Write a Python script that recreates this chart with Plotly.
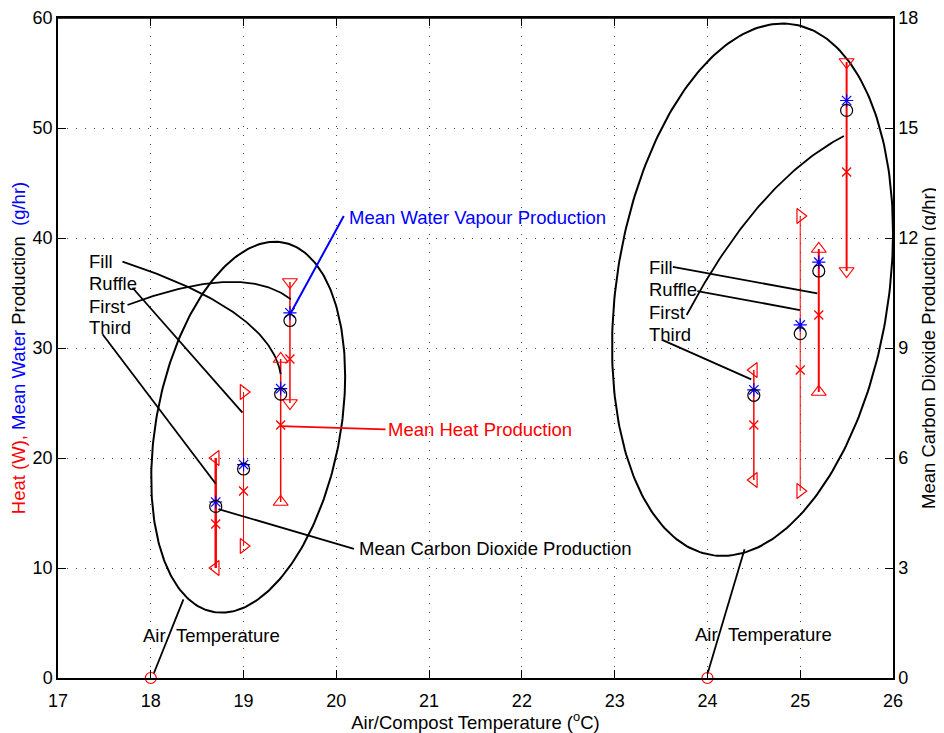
import numpy as np
import plotly.graph_objects as go

# ---------------- data ----------------
temps = [18.7, 19.0, 19.4, 19.5, 24.5, 25.0, 25.2, 25.5]
turning = ["Third", "Ruffle", "Fill", "First", "Third", "Ruffle", "Fill", "First"]
heat_max = [20, 26, 29, 36, 28, 42, 39, 56]
heat_min = [10, 12, 16, 25, 18, 17, 26, 37]
heat_mean = [14, 17, 23, 29, 23, 28, 33, 46]
water_mean = [16.0, 19.4, 26.3, 33.2, 26.2, 32.1, 37.8, 52.5]
co2_mean = [4.68, 5.70, 7.74, 9.75, 7.71, 9.39, 11.1, 15.48]
air_temps = [18, 24]
air_values = [0, 0]

x_ticks = list(range(17, 27))
y_ticks = list(range(0, 61, 10))
y2_ticks = list(range(0, 19, 3))

# ellipse geometry (data units): centre, half extents, correlation
ell_cx = [19.05, 24.486]
ell_cy = [22.8, 35.3]
ell_wx = [1.045, 1.514]
ell_wy = [16.86, 24.2]
ell_rho = [0.275, 0.214]

# annotation texts / positions
label_names = ["Fill", "Ruffle", "First", "Third"]
label_x = [17.31, 23.35]
label_y_left = [37.9, 35.85, 33.8, 31.85]
label_y_right = [37.36, 35.34, 33.24, 31.27]

# ---------------- styling ----------------
sym = {"Third": "triangle-left-open", "Ruffle": "triangle-right-open",
       "Fill": "triangle-up-open", "First": "triangle-down-open"}
bar_widths = [2.5, 1, 1.5, 1.5, 1.5, 1, 2, 2]
RED = "#ff0000"
BLUE = "#0000ff"
FONT = "Liberation Sans, Arial, Helvetica, sans-serif"
TXT = 18.5

fig = go.Figure()

# ellipses
t = np.linspace(0, 2 * np.pi, 300)
for cx, cy, wx, wy, r in zip(ell_cx, ell_cy, ell_wx, ell_wy, ell_rho):
    ex = cx + wx * np.cos(t)
    ey = cy + wy * (r * np.cos(t) + np.sqrt(1 - r * r) * np.sin(t))
    fig.add_trace(go.Scatter(x=ex, y=ey, mode="lines",
                             line=dict(color="black", width=2),
                             hoverinfo="skip", showlegend=False))

# vertical heat ranges
for xv, lo, hi, w in zip(temps, heat_min, heat_max, bar_widths):
    fig.add_trace(go.Scatter(x=[xv, xv], y=[lo, hi], mode="lines",
                             line=dict(color=RED, width=w),
                             hoverinfo="skip", showlegend=False))

# annotation connector lines
def seg(p0, p1, color="black", width=1.8):
    fig.add_trace(go.Scatter(x=[p0[0], p1[0]], y=[p0[1], p1[1]], mode="lines",
                             line=dict(color=color, width=width),
                             hoverinfo="skip", showlegend=False))

def qcurve(p0, p1, p2, width=1.8):
    s = np.linspace(0, 1, 80)
    bx = (1 - s) ** 2 * p0[0] + 2 * (1 - s) * s * p1[0] + s ** 2 * p2[0]
    by = (1 - s) ** 2 * p0[1] + 2 * (1 - s) * s * p1[1] + s ** 2 * p2[1]
    fig.add_trace(go.Scatter(x=bx, y=by, mode="lines",
                             line=dict(color="black", width=width),
                             hoverinfo="skip", showlegend=False))

# left cluster
qcurve((17.695, 37.85), (19.285, 33.45), (19.40, 27.63))      # Fill
seg((17.803, 35.48), (18.988, 24.12))                          # Ruffle
qcurve((17.749, 33.91), (18.988, 37.83), (19.51, 34.43))       # First
seg((17.48, 31.25), (18.70, 17.66))                            # Third
seg((18.03, 0.36), (18.352, 7.15))                             # Air temp
seg((18.73, 15.36), (20.19, 11.73))                            # CO2
seg((19.40, 22.9), (20.53, 22.6), color=RED)                   # heat
seg((19.51, 33.2), (20.08, 42.0), color=BLUE, width=2)         # water
# right cluster
seg((23.627, 37.37), (25.184, 34.97))                          # Fill
seg((23.891, 35.18), (24.997, 33.45))                          # Ruffle
qcurve((23.776, 33.0), (24.541, 45.18), (25.471, 49.27))       # First
seg((23.518, 30.72), (24.472, 27.15))                          # Third
seg((24.0, 0.36), (24.40, 11.7))                               # Air temp

# triangles at range ends
for kind in ["Third", "Ruffle", "Fill", "First"]:
    xs, ys = [], []
    for xv, lo, hi, k in zip(temps, heat_min, heat_max, turning):
        if k == kind:
            xs += [xv, xv]
            ys += [hi, lo]
    fig.add_trace(go.Scatter(x=xs, y=ys, mode="markers",
                             marker=dict(symbol=sym[kind], size=13, color=RED,
                                         line=dict(color=RED, width=1.2)),
                             hoverinfo="skip", showlegend=False))

# mean heat
fig.add_trace(go.Scatter(x=temps, y=heat_mean, mode="markers",
                         marker=dict(symbol="x-thin-open", size=9, color=RED,
                                     line=dict(color=RED, width=1.3)),
                         showlegend=False))
# water vapour
fig.add_trace(go.Scatter(x=temps, y=water_mean, mode="markers",
                         marker=dict(symbol="asterisk-open", size=11, color=BLUE,
                                     line=dict(color=BLUE, width=1.2)),
                         showlegend=False))
# co2 on right axis
fig.add_trace(go.Scatter(x=temps, y=co2_mean, mode="markers", yaxis="y2",
                         marker=dict(symbol="circle-open", size=12, color="black",
                                     line=dict(color="black", width=1.2)),
                         showlegend=False))
# air temperature
fig.add_trace(go.Scatter(x=air_temps, y=air_values, mode="markers",
                         marker=dict(symbol="circle-open", size=11, color=RED,
                                     line=dict(color=RED, width=1.2)),
                         cliponaxis=False, showlegend=False))

ann = []
afont = dict(family=FONT, size=TXT, color="black")
for i, name in enumerate(label_names):
    ann.append(dict(x=label_x[0], y=label_y_left[i], text=name, showarrow=False,
                    xanchor="left", yanchor="middle", font=afont))
    ann.append(dict(x=label_x[1], y=label_y_right[i], text=name, showarrow=False,
                    xanchor="left", yanchor="middle", font=afont))
ann.append(dict(x=17.893, y=3.82, text="Air\u00a0\u00a0Temperature", showarrow=False,
                xanchor="left", yanchor="middle", font=afont))
ann.append(dict(x=23.842, y=4.0, text="Air\u00a0\u00a0Temperature", showarrow=False,
                xanchor="left", yanchor="middle", font=afont))
ann.append(dict(x=20.22, y=11.75, text="Mean Carbon Dioxide Production", showarrow=False,
                xanchor="left", yanchor="middle", font=afont))
ann.append(dict(x=20.54, y=22.6, text="Mean Heat Production", showarrow=False,
                xanchor="left", yanchor="middle", font=dict(family=FONT, size=TXT, color=RED)))
ann.append(dict(x=20.11, y=41.9, text="Mean Water Vapour Production", showarrow=False,
                xanchor="left", yanchor="middle", font=dict(family=FONT, size=TXT, color=BLUE)))

axis_common = dict(showline=True, linecolor="black", linewidth=1.5,
                   ticks="inside", ticklen=8, tickcolor="black", tickwidth=1,
                   tickfont=dict(family=FONT, size=18, color="black"),
                   ticklabeloverflow="allow",
                   zeroline=False, automargin=False)

# the page body adds an 8px offset; the figure is placed so the plot area
# sits where the reference has it
fig.update_layout(
    width=936, height=725,
    margin=dict(l=50, r=51, t=10, b=55),
    paper_bgcolor="white", plot_bgcolor="white",
    font=dict(family=FONT, size=TXT, color="black"),
    annotations=ann,
    shapes=[dict(type="line", xref="paper", yref="paper", x0=0, x1=1, y0=1, y1=1,
                 line=dict(color="black", width=1.5), layer="above")],
    xaxis=dict(range=[17, 26], tickvals=x_ticks, mirror="ticks",
               showgrid=True, gridcolor="#444", griddash="1px,8px", gridwidth=1,
               ticklabelstandoff=6,
               title=dict(text="Air/Compost Temperature (<sup>o</sup>C)",
                          font=dict(family=FONT, size=TXT), standoff=3),
               **axis_common),
    yaxis=dict(range=[0, 60], tickvals=y_ticks,
               showgrid=True, gridcolor="#444", griddash="1px,8px", gridwidth=1,
               title=dict(text="<span style='color:#ff0000'>Heat (W),</span> "
                               "<span style='color:#0000ff'>Mean Water</span> Production  "
                               "<span style='color:#0000ff'>(g/hr)</span>",
                          font=dict(family=FONT, size=TXT), standoff=2),
               **axis_common),
    yaxis2=dict(range=[0, 18], tickvals=y2_ticks, overlaying="y", side="right",
                showgrid=False,
                title=dict(text="Mean Carbon Dioxide Production (g/hr)",
                           font=dict(family=FONT, size=TXT), standoff=2),
                **axis_common),
)

fig.write_html("out.html")
